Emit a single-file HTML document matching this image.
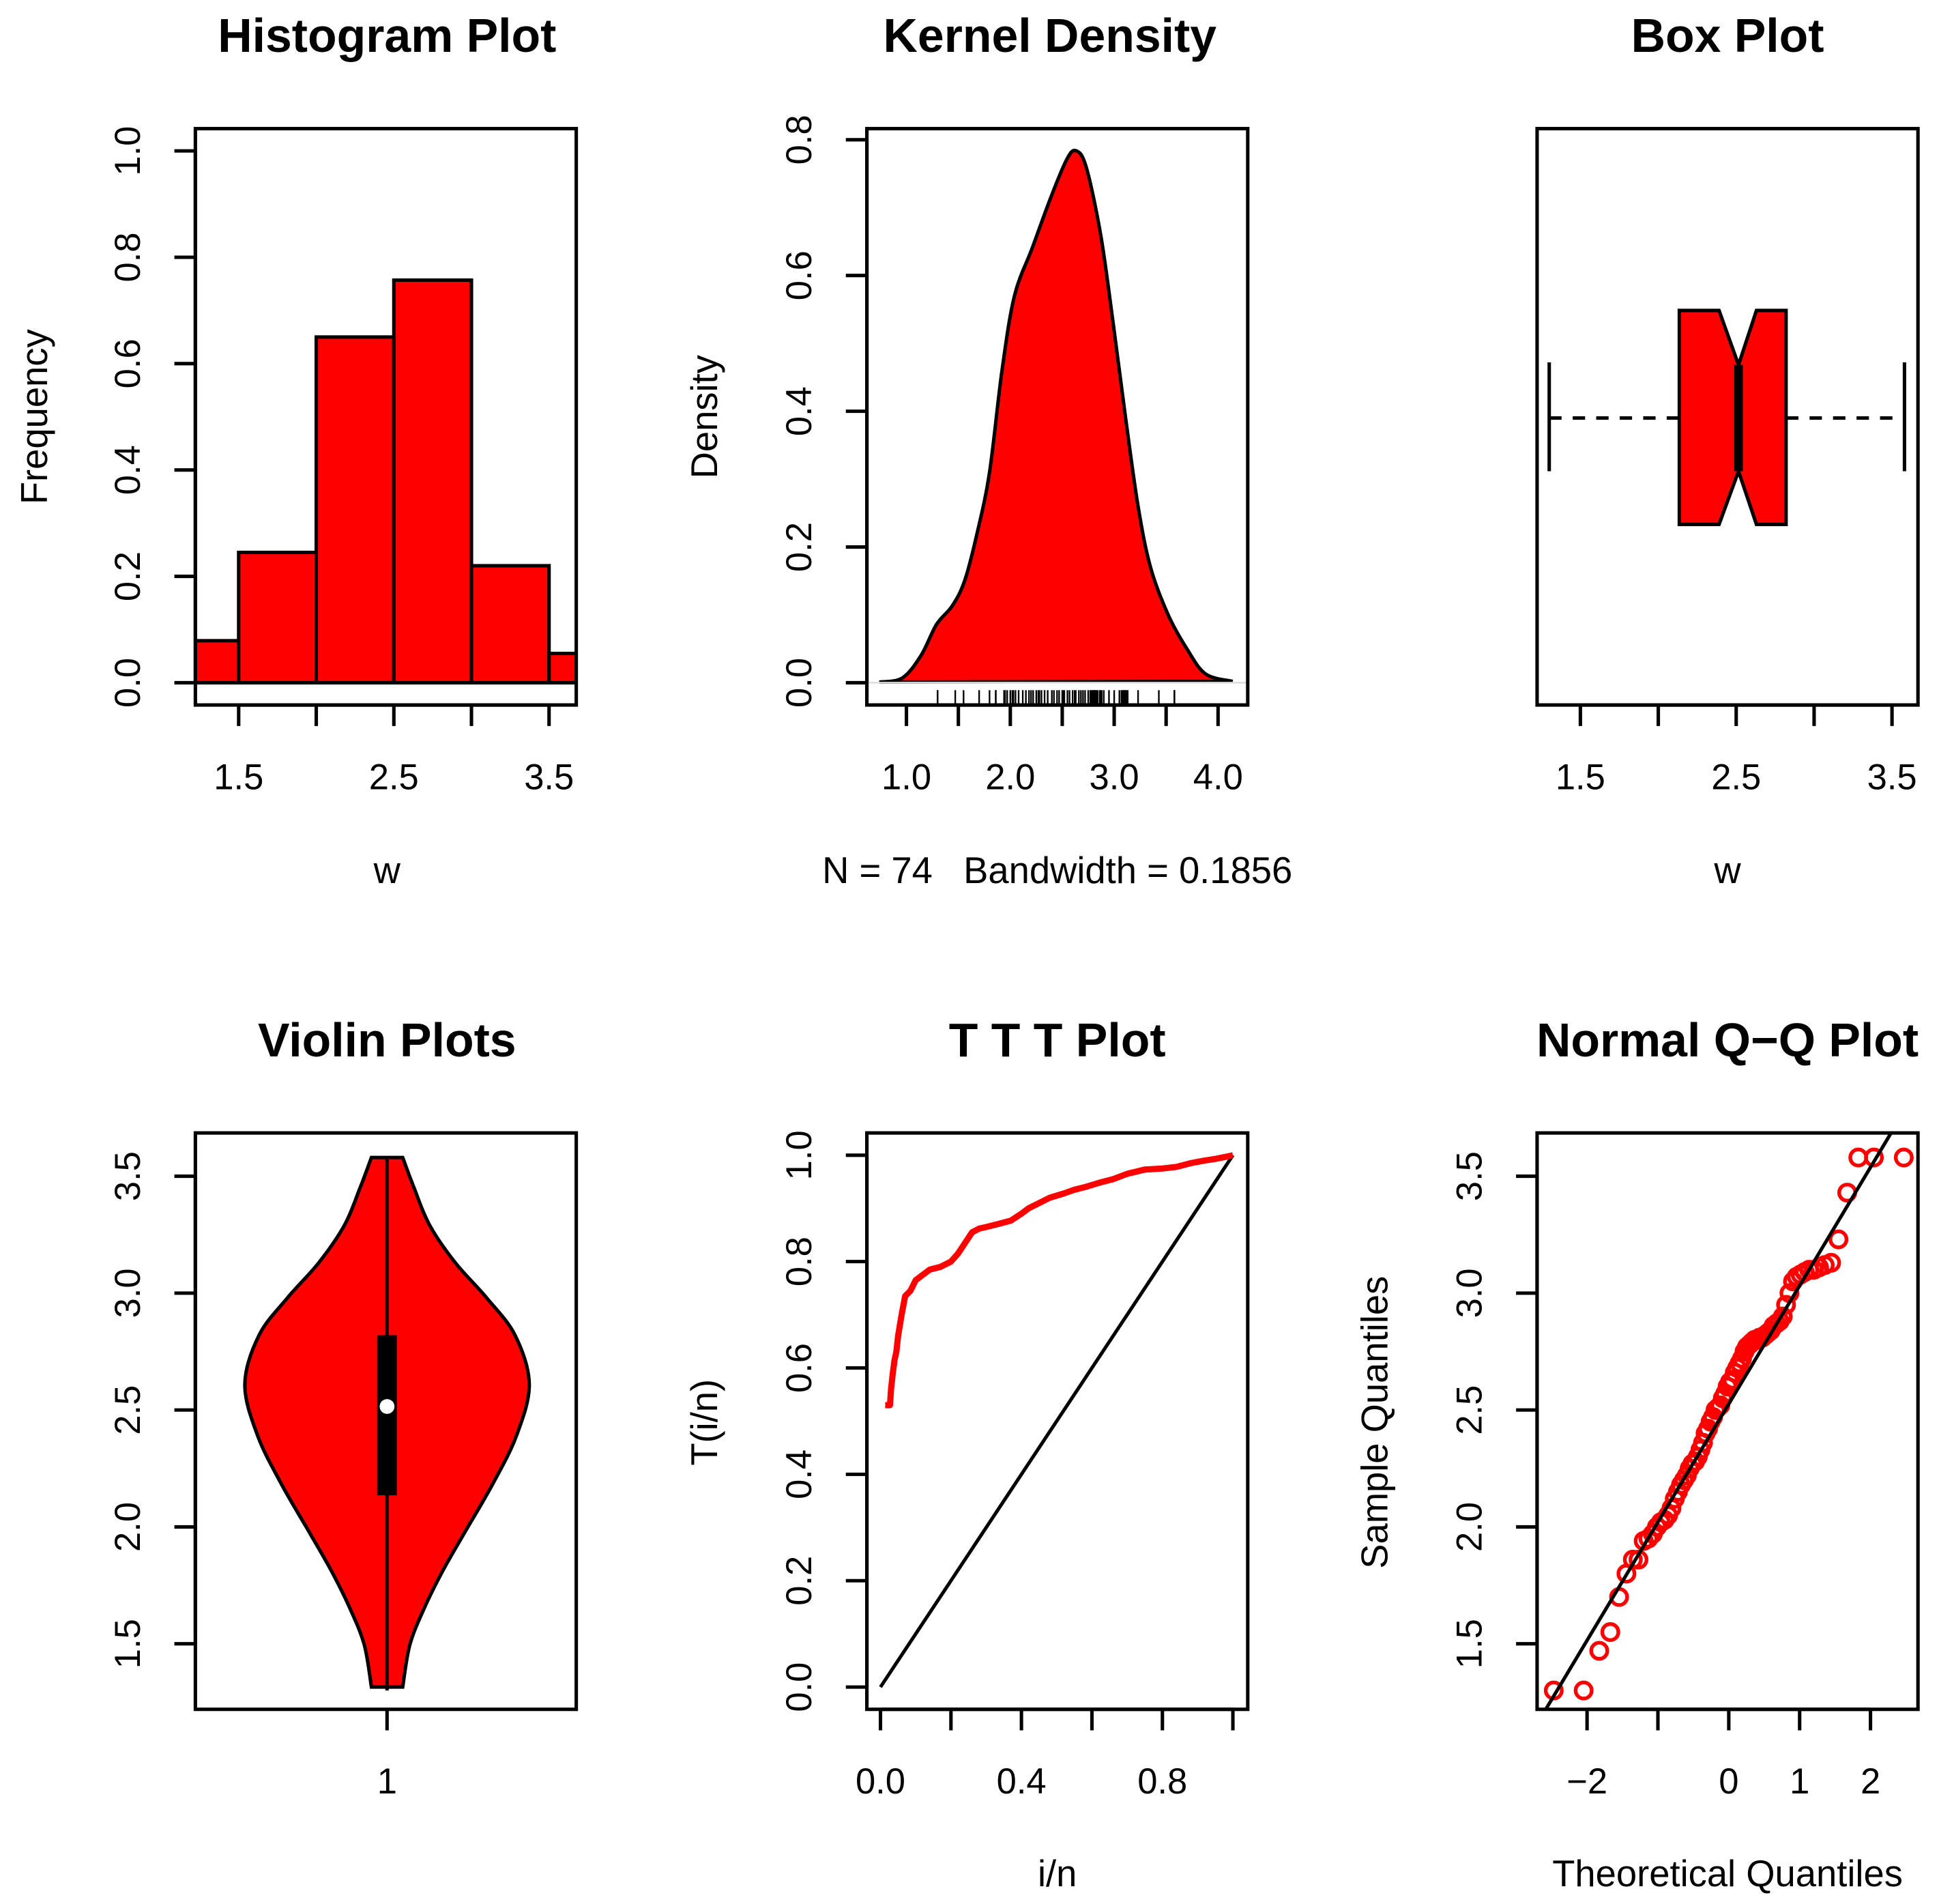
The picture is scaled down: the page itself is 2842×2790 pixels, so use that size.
<!DOCTYPE html>
<html><head><meta charset="utf-8"><style>
html,body{margin:0;padding:0;background:#fff;}
svg{display:block;font-family:"Liberation Sans",Arial,sans-serif;}
</style></head><body>
<svg id="chart" xmlns="http://www.w3.org/2000/svg" width="2842" height="2790" viewBox="0 0 1568 1539.4" preserveAspectRatio="none">
<defs>
<clipPath id="clipHist"><rect x="158" y="104" width="308" height="466"/></clipPath>
<clipPath id="clipQQ"><rect x="1243" y="916" width="308" height="466"/></clipPath>
</defs>
</svg>
<script>
// ---------- data ----------
const histBreaks=[1.0,1.5,2.0,2.5,3.0,3.5,4.0];
const histDensity=[0.079,0.245,0.65,0.757,0.22,0.055];
const histXTicks=[1.5,2.0,2.5,3.0,3.5];
const histXLabels=["1.5","","2.5","","3.5"];
const histYTicks=[0,0.2,0.4,0.6,0.8,1.0];
const histYLabels=["0.0","0.2","0.4","0.6","0.8","1.0"];

const densX=[0.74,0.96,1.14,1.29,1.44,1.56,1.68,1.80,1.92,2.04,2.21,2.39,2.54,2.63,2.73,2.87,2.99,3.11,3.23,3.35,3.52,3.70,3.88,4.14];
const densY=[0.001,0.007,0.04,0.086,0.113,0.15,0.22,0.31,0.46,0.57,0.64,0.715,0.77,0.784,0.76,0.66,0.53,0.39,0.26,0.17,0.10,0.05,0.013,0.002];
const densXTicks=[1.0,1.5,2.0,2.5,3.0,3.5,4.0];
const densXLabels=["1.0","","2.0","","3.0","","4.0"];
const densYTicks=[0,0.2,0.4,0.6,0.8];
const densYLabels=["0.0","0.2","0.4","0.6","0.8"];

const sample=[1.30,1.30,1.47,1.55,1.70,1.80,1.86,1.86,1.94,1.95,1.97,2.00,2.02,2.03,2.05,2.08,2.12,2.15,2.18,2.20,2.22,2.25,2.27,2.28,2.30,2.33,2.36,2.40,2.42,2.45,2.47,2.50,2.51,2.52,2.55,2.57,2.60,2.62,2.63,2.66,2.68,2.70,2.72,2.75,2.77,2.78,2.79,2.80,2.80,2.81,2.81,2.82,2.83,2.84,2.86,2.87,2.88,2.90,2.95,3.00,3.05,3.07,3.08,3.09,3.10,3.10,3.11,3.12,3.13,3.23,3.43,3.58,3.58,3.58];

const boxStats=[1.30,2.135,2.515,2.82,3.58];
const boxNotch=[2.39,2.63];
const boxXTicks=[1.5,2.0,2.5,3.0,3.5];
const boxXLabels=["1.5","","2.5","","3.5"];

const violinY=[1.315,1.495,1.65,1.81,1.97,2.18,2.39,2.61,2.82,2.98,3.13,3.29,3.45,3.58];
const violinDens=[0.11,0.16,0.26,0.39,0.54,0.74,0.91,1.0,0.90,0.70,0.48,0.30,0.19,0.11];
const violinYTicks=[1.5,2.0,2.5,3.0,3.5];
const violinYLabels=["1.5","2.0","2.5","3.0","3.5"];

const tttX=[0.0135,0.027,0.03,0.035,0.04,0.045,0.05,0.06,0.07,0.085,0.10,0.12,0.14,0.17,0.20,0.22,0.24,0.26,0.28,0.30,0.33,0.37,0.40,0.42,0.45,0.48,0.52,0.55,0.58,0.62,0.66,0.70,0.75,0.80,0.84,0.88,0.92,0.95,0.98,1.0];
const tttY=[0.53,0.53,0.56,0.59,0.615,0.63,0.66,0.70,0.735,0.745,0.765,0.775,0.785,0.79,0.80,0.815,0.835,0.855,0.862,0.865,0.87,0.877,0.89,0.90,0.91,0.92,0.928,0.935,0.94,0.948,0.955,0.965,0.973,0.975,0.978,0.985,0.99,0.993,0.997,1.0];
const tttXTicks=[0,0.2,0.4,0.6,0.8,1.0];
const tttXLabels=["0.0","","0.4","","0.8",""];
const tttYTicks=[0,0.2,0.4,0.6,0.8,1.0];
const tttYLabels=["0.0","0.2","0.4","0.6","0.8","1.0"];

const qqXTicks=[-2,-1,0,1,2];
const qqXLabels=["\u22122","","0","1","2"];

// ---------- helpers ----------
const NS='http://www.w3.org/2000/svg';
const svg=document.getElementById('chart');
const SW=2.8;
function mk(tag,attrs,parent){const e=document.createElementNS(NS,tag);for(const k in attrs)e.setAttribute(k,attrs[k]);(parent||svg).appendChild(e);return e;}
function txt(s,x,y,size,weight,rot){const e=mk('text',{x:x,y:y,'font-size':size,'text-anchor':'middle','font-weight':weight||'normal',fill:'#000'});e.style.whiteSpace='pre';if(rot)e.setAttribute('transform','rotate(-90 '+x+' '+y+')');e.textContent=s;return e;}
function frame(x,y,w,h,name){const r=mk('rect',{x:x,y:y,width:w,height:h,fill:'none',stroke:'#000','stroke-width':SW});


return r;}
function xAxis(ticks,labels,map,yb,name){const g=mk('g',{});


mk('line',{x1:map(ticks[0]),x2:map(ticks[ticks.length-1]),y1:yb,y2:yb,stroke:'#000','stroke-width':SW},g);
ticks.forEach((t,i)=>{mk('line',{x1:map(t),x2:map(t),y1:yb,y2:yb+17,stroke:'#000','stroke-width':SW},g);
if(labels[i]){const l=txt(labels[i],map(t),yb+68,29);g.appendChild(l);

}});}
function yAxis(ticks,labels,map,xl,name){const g=mk('g',{});


mk('line',{x1:xl,x2:xl,y1:map(ticks[0]),y2:map(ticks[ticks.length-1]),stroke:'#000','stroke-width':SW},g);
ticks.forEach((t,i)=>{mk('line',{x1:xl,x2:xl-17,y1:map(t),y2:map(t),stroke:'#000','stroke-width':SW},g);
if(labels[i]){const l=txt(labels[i],xl-45,map(t),29,'normal',true);g.appendChild(l);

}});}
function smooth(pts){let d='M'+pts[0][0]+','+pts[0][1];for(let i=0;i<pts.length-1;i++){const p0=pts[i-1]||pts[i],p1=pts[i],p2=pts[i+1],p3=pts[i+2]||p2;
d+=' C'+(p1[0]+(p2[0]-p0[0])/6)+','+(p1[1]+(p2[1]-p0[1])/6)+' '+(p2[0]-(p3[0]-p1[0])/6)+','+(p2[1]-(p3[1]-p1[1])/6)+' '+p2[0]+','+p2[1];}return d;}
function qnorm(p){const a=[-39.69683028665376,220.9460984245205,-275.9285104469687,138.357751867269,-30.66479806614716,2.506628277459239],b=[-54.47609879822406,161.5858368580409,-155.6989798598866,66.80131188771972,-13.28068155288572],c=[-0.007784894002430293,-0.3223964580411365,-2.400758277161838,-2.549732539343734,4.374664141464968,2.938163982698783],d=[0.007784695709041462,0.3224671290700398,2.445134137142996,3.754408661907416];
let q,r;if(p<0.02425){q=Math.sqrt(-2*Math.log(p));return (((((c[0]*q+c[1])*q+c[2])*q+c[3])*q+c[4])*q+c[5])/((((d[0]*q+d[1])*q+d[2])*q+d[3])*q+1);}
if(p>1-0.02425){q=Math.sqrt(-2*Math.log(1-p));return -(((((c[0]*q+c[1])*q+c[2])*q+c[3])*q+c[4])*q+c[5])/((((d[0]*q+d[1])*q+d[2])*q+d[3])*q+1);}
q=p-0.5;r=q*q;return (((((a[0]*r+a[1])*r+a[2])*r+a[3])*r+a[4])*r+a[5])*q/(((((b[0]*r+b[1])*r+b[2])*r+b[3])*r+b[4])*r+1);}
function title(s,x,y,name){const t=txt(s,x,y,38.5,'bold');

}
function label(s,x,y,rot,name){const t=txt(s,x,y,30,'normal',rot);

}

// ---------- Histogram ----------
const xh=v=>193+(v-1.5)*125.5, yh=v=>552-v*430;
const hg=mk('g',{'clip-path':'url(#clipHist)'});


histDensity.forEach((v,i)=>{const r=mk('rect',{x:xh(histBreaks[i]),y:yh(v),width:xh(histBreaks[i+1])-xh(histBreaks[i]),height:yh(0)-yh(v),fill:'#f00',stroke:'#000','stroke-width':SW},hg);

});
mk('line',{x1:158,x2:466,y1:yh(0),y2:yh(0),stroke:'#000','stroke-width':SW},hg);
frame(158,104,308,466,'histogram-plot-area');
xAxis(histXTicks,histXLabels,xh,570,'histogram-x-axis');
yAxis(histYTicks,histYLabels,yh,158,'histogram-y-axis');
title('Histogram Plot',313,42,'histogram-title');
label('w',313,714,false,'histogram-x-title');
label('Frequency',38,337,true,'histogram-y-title');

// ---------- Kernel density ----------
const xd=v=>733+(v-1)*84, yd=v=>552-v*548.75;
const dpts=densX.map((x,i)=>[xd(x),yd(densY[i])]);
const dp=mk('path',{d:smooth(dpts)+' Z',fill:'#f00',stroke:'#000','stroke-width':SW});


mk('line',{x1:701,x2:1009,y1:yd(0),y2:yd(0),stroke:'#ddd','stroke-width':1.5});
sample.forEach(v=>{const l=mk('line',{x1:xd(v),x2:xd(v),y1:558,y2:570,stroke:'#000','stroke-width':1.3});

});
frame(701,104,308,466,'density-plot-area');
xAxis(densXTicks,densXLabels,xd,570,'density-x-axis');
yAxis(densYTicks,densYLabels,yd,701,'density-y-axis');
title('Kernel Density',849,42,'density-title');
label('N = 74   Bandwidth = 0.1856',855,714,false,'density-x-title');
label('Density',580,337,true,'density-y-title');

// ---------- Box plot ----------
const xb=v=>1278+(v-1.5)*126;
const bt=251,bb=424,bm=338,nt=295,nb=381;
const bg=mk('g',{});


mk('line',{x1:xb(boxStats[0]),x2:xb(boxStats[1]),y1:bm,y2:bm,stroke:'#000','stroke-width':SW,'stroke-dasharray':'10,9'},bg);
mk('line',{x1:xb(boxStats[3]),x2:xb(boxStats[4]),y1:bm,y2:bm,stroke:'#000','stroke-width':SW,'stroke-dasharray':'10,9'},bg);
mk('line',{x1:xb(boxStats[0]),x2:xb(boxStats[0]),y1:293,y2:381,stroke:'#000','stroke-width':SW},bg);
mk('line',{x1:xb(boxStats[4]),x2:xb(boxStats[4]),y1:293,y2:381,stroke:'#000','stroke-width':SW},bg);
const q1=xb(boxStats[1]),q3=xb(boxStats[3]),md=xb(boxStats[2]),n1=xb(boxNotch[0]),n2=xb(boxNotch[1]);
mk('polygon',{points:[[q1,bt],[n1,bt],[md,nt],[n2,bt],[q3,bt],[q3,bb],[n2,bb],[md,nb],[n1,bb],[q1,bb]].map(p=>p.join(',')).join(' '),fill:'#f00',stroke:'#000','stroke-width':SW},bg);
mk('line',{x1:md,x2:md,y1:nt,y2:nb,stroke:'#000','stroke-width':7},bg);
frame(1243,104,308,466,'boxplot-plot-area');
xAxis(boxXTicks,boxXLabels,xb,570,'boxplot-x-axis');
title('Box Plot',1397,42,'boxplot-title');
label('w',1397,714,false,'boxplot-x-title');

// ---------- Violin ----------
const yv=v=>1329-(v-1.5)*189, cx=313, hwMax=115;
const right=violinY.map((y,i)=>[cx+violinDens[i]*hwMax,yv(y)]);
const left=violinY.map((y,i)=>[cx-violinDens[i]*hwMax,yv(y)]).reverse();
const vp=mk('path',{d:smooth(right)+' L'+left[0][0]+','+left[0][1]+' '+smooth(left).slice(1).replace(/^[^C]*/,'')+' Z',fill:'#f00',stroke:'#000','stroke-width':SW});


mk('line',{x1:cx,x2:cx,y1:yv(boxStats[0]),y2:yv(boxStats[4]),stroke:'#000','stroke-width':SW});
const vb=mk('rect',{x:cx-8,y:yv(boxStats[3]),width:16,height:yv(boxStats[1])-yv(boxStats[3]),fill:'#000'});


const vd=mk('circle',{cx:cx,cy:yv(boxStats[2]),r:6,fill:'#fff'});


frame(158,916,308,466,'violin-plot-area');
xAxis([1],["1"],v=>313,1382,'violin-x-axis');
yAxis(violinYTicks,violinYLabels,yv,158,'violin-y-axis');
title('Violin Plots',313,854,'violin-title');

// ---------- TTT ----------
const xt=v=>712+v*285, yt=v=>1364-v*430;
const dl=mk('line',{x1:xt(0),y1:yt(0),x2:xt(1),y2:yt(1),stroke:'#000','stroke-width':SW});


const tp=mk('polyline',{points:tttX.map((x,i)=>xt(x)+','+yt(tttY[i])).join(' '),fill:'none',stroke:'#f00','stroke-width':5,'stroke-linejoin':'round'});


frame(701,916,308,466,'ttt-plot-area');
xAxis(tttXTicks,tttXLabels,xt,1382,'ttt-x-axis');
yAxis(tttYTicks,tttYLabels,yt,701,'ttt-y-axis');
title('T T T Plot',855,854,'ttt-title');
label('i/n',855,1525,false,'ttt-x-title');
label('T(i/n)',580,1150,true,'ttt-y-title');

// ---------- QQ ----------
const xq=v=>1398+v*57.3;
const n=sample.length;
const qg=mk('g',{'clip-path':'url(#clipQQ)'});


const sorted=sample.slice().sort((a,b)=>a-b);
sorted.forEach((v,i)=>{const c=mk('circle',{cx:xq(qnorm((i+0.5)/n)),cy:yv(v),r:6.5,fill:'none',stroke:'#f00','stroke-width':3},qg);

});
const qt=p=>{const h=(n-1)*p,lo=Math.floor(h);return sorted[lo]+(h-lo)*(sorted[lo+1]-sorted[lo]);};
const slope=(qt(0.75)-qt(0.25))/(qnorm(0.75)-qnorm(0.25)),icpt=qt(0.25)-slope*qnorm(0.25);
const ql=mk('line',{x1:xq(-3),y1:yv(icpt-3*slope),x2:xq(3),y2:yv(icpt+3*slope),stroke:'#000','stroke-width':SW},qg);


frame(1243,916,308,466,'qq-plot-area');
xAxis(qqXTicks,qqXLabels,xq,1382,'qq-x-axis');
yAxis(violinYTicks,violinYLabels,yv,1243,'qq-y-axis');
title('Normal Q\u2212Q Plot',1397,854,'qq-title');
label('Theoretical Quantiles',1397,1525,false,'qq-x-title');
label('Sample Quantiles',1122,1150,true,'qq-y-title');
</script>
</body></html>
